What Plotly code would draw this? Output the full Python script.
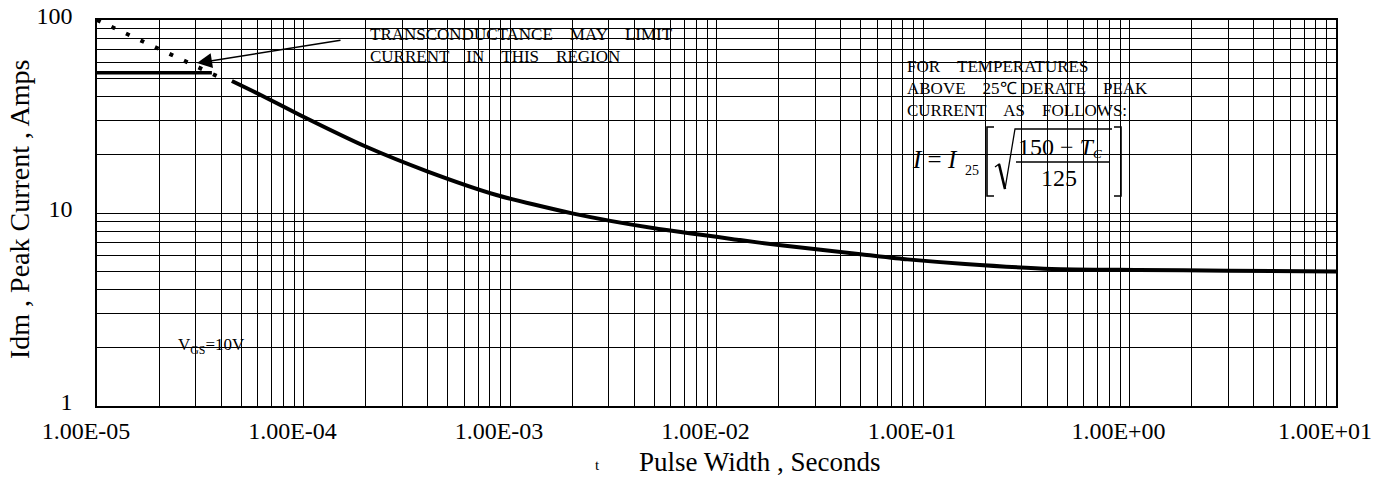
import plotly.graph_objects as go

# ---------------- data ----------------
pulse_width_s = [4.5e-5, 6.2e-5, 9.6e-5, 2.0e-4, 4.0e-4, 8.6e-4, 2.0e-3, 5.0e-3,
                 1.3e-2, 2.0e-2, 5.1e-2, 8.4e-2, 0.16, 0.42, 1.1, 3.0, 10.0]
peak_current_a = [48.3, 40.9, 32.2, 22.1, 16.4, 12.4, 9.96, 8.33,
                  7.24, 6.82, 6.1, 5.75, 5.44, 5.13, 5.07, 5.02, 4.97]

transcond_x = [1.0e-5, 3.8e-5]
transcond_y = [100.0, 51.3]

limit_x = [1.0e-5, 3.6e-5]
limit_y = [53.3, 53.3]

x_tick_vals = [1e-5, 1e-4, 1e-3, 1e-2, 1e-1, 1e0, 1e1]
x_tick_text = ["1.00E-05", "1.00E-04", "1.00E-03", "1.00E-02",
               "1.00E-01", "1.00E+00", "1.00E+01"]
y_tick_vals = [1, 10, 100]
y_tick_text = ["1", "10", "100"]

# ---------------- layout helpers ----------------
W, H = 1387, 481
L, R, T, B = 97, 1336, 20, 406
SERIF = "Liberation Serif, Times New Roman, serif"


def px(x):
    return (x - L) / (R - L)


def py(y):
    return (B - y) / (B - T)


def path(points):
    return "M " + " L ".join(f"{px(a):.5f},{py(b):.5f}" for a, b in points)


fig = go.Figure()

fig.add_trace(go.Scatter(
    x=pulse_width_s, y=peak_current_a, mode="lines",
    line=dict(color="black", width=4, shape="spline", smoothing=0.6),
    showlegend=False, hoverinfo="skip"))

fig.add_trace(go.Scatter(
    x=transcond_x, y=transcond_y, mode="lines",
    line=dict(color="black", width=4, dash="4px,12px"),
    showlegend=False, hoverinfo="skip"))

fig.add_trace(go.Scatter(
    x=limit_x, y=limit_y, mode="lines",
    line=dict(color="black", width=3.5),
    showlegend=False, hoverinfo="skip"))

shapes = []
# white label boxes covering the grid
for (x0, y0, x1, y1) in [(341, 20.8, 697, 106), (904, 52, 1229, 228), (173, 328, 248, 365)]:
    shapes.append(dict(type="rect", xref="paper", yref="paper",
                       x0=px(x0), x1=px(x1), y0=py(y1), y1=py(y0),
                       fillcolor="white", line=dict(width=0), layer="between"))

# formula decorations: brackets, radical, fraction bar
thin = dict(color="black", width=1.6)
shapes.append(dict(type="path", xref="paper", yref="paper",
                   path=path([(994, 127), (987, 127), (987, 196), (994, 196)]), line=thin))
shapes.append(dict(type="path", xref="paper", yref="paper",
                   path=path([(1114, 127), (1121, 127), (1121, 196), (1114, 196)]), line=thin))
shapes.append(dict(type="path", xref="paper", yref="paper",
                   path=path([(995, 167), (999, 164), (1005, 189), (1015, 129), (1112, 129)]),
                   line=dict(color="black", width=1.3)))
shapes.append(dict(type="path", xref="paper", yref="paper",
                   path=path([(999, 164), (1005, 189)]), line=dict(color="black", width=2.6)))
shapes.append(dict(type="line", xref="paper", yref="paper",
                   x0=px(1016), x1=px(1110), y0=py(162), y1=py(162),
                   line=dict(color="black", width=1.3)))

NB = "\u00a0"
annotations = [
    dict(text=f"TRANSCONDUCTANCE{NB*4}MAY{NB*4}LIMIT<br>CURRENT{NB*4}IN{NB*4}THIS{NB*4}REGION",
         x=px(368), y=py(45), xanchor="left", yanchor="middle", align="left",
         font=dict(family=SERIF, size=17, color="black")),
    dict(text=f"FOR{NB*4}TEMPERATURES<br>ABOVE{NB*4}25\u2103{NB}DERATE{NB*4}PEAK<br>CURRENT{NB*4}AS{NB*4}FOLLOWS:",
         x=px(905), y=py(88.5), xanchor="left", yanchor="middle", align="left",
         font=dict(family=SERIF, size=17, color="black")),
    dict(text="V<sub>GS</sub>=10V", x=px(211), y=py(346), xanchor="center", yanchor="middle",
         font=dict(family=SERIF, size=17, color="black")),
    # formula I = I25 [ sqrt((150 - Tc)/125) ]
    dict(text=f"<i>I</i>{NB}={NB}<i>I</i>", x=px(910), y=py(160), xanchor="left", yanchor="middle",
         font=dict(family=SERIF, size=25, color="black")),
    dict(text="25", x=px(963), y=py(171), xanchor="left", yanchor="middle",
         font=dict(family=SERIF, size=14, color="black")),
    dict(text="150 \u2212 <i>T</i>", x=px(1016), y=py(147), xanchor="left", yanchor="middle",
         font=dict(family=SERIF, size=24, color="black")),
    dict(text="<i>C</i>", x=px(1091), y=py(153), xanchor="left", yanchor="middle",
         font=dict(family=SERIF, size=13, color="black")),
    dict(text="125", x=px(1059), y=py(178), xanchor="center", yanchor="middle",
         font=dict(family=SERIF, size=24, color="black")),
    # arrow
    dict(text="", x=px(197), y=py(63), ax=145, ay=-23, showarrow=True,
         arrowhead=2, arrowsize=2, arrowwidth=1.5, arrowcolor="black", standoff=0),
    # axis titles
    dict(text="t", x=px(597), y=py(465), xanchor="center", yanchor="middle",
         font=dict(family=SERIF, size=15, color="black")),
    dict(text="Pulse Width , Seconds", x=px(759), y=py(462), xanchor="center", yanchor="middle",
         font=dict(family=SERIF, size=27, color="black")),
    dict(text="Idm , Peak Current , Amps", x=px(19), y=py(210), xanchor="center",
         yanchor="middle", textangle=-90,
         font=dict(family=SERIF, size=28, color="black")),
]
for a in annotations:
    a.setdefault("xref", "paper")
    a.setdefault("yref", "paper")
    a.setdefault("showarrow", False)

grid = dict(showgrid=True, gridcolor="black", gridwidth=1)
fig.update_layout(
    width=W, height=H,
    margin=dict(l=L, r=W - R, t=T, b=H - B, autoexpand=False),
    paper_bgcolor="white", plot_bgcolor="white",
    shapes=shapes, annotations=annotations,
    xaxis=dict(type="log", range=[-5, 1], tickmode="array", automargin=False,
               tickvals=x_tick_vals, ticktext=x_tick_text,
               ticks="", ticklabelshift=-11, ticklabelstandoff=2,
               showline=True, linecolor="black", linewidth=1.5, mirror=True,
               tickfont=dict(family=SERIF, size=24, color="black"),
               minor=dict(dtick="D1", ticks="", **grid), **grid),
    yaxis=dict(type="log", range=[0, 2], tickmode="array", automargin=False,
               tickvals=y_tick_vals, ticktext=y_tick_text,
               ticks="", ticklabelshift=-4, ticklabelstandoff=18,
               showline=True, linecolor="black", linewidth=1.5, mirror=True,
               tickfont=dict(family=SERIF, size=24, color="black"),
               minor=dict(dtick="D1", ticks="", **grid), **grid),
)

# remove the default page margin so the figure fills the window exactly
fig.write_html("out.html", config={"displayModeBar": False},
               post_script="document.body.style.margin='0';document.body.style.overflow='hidden';")
